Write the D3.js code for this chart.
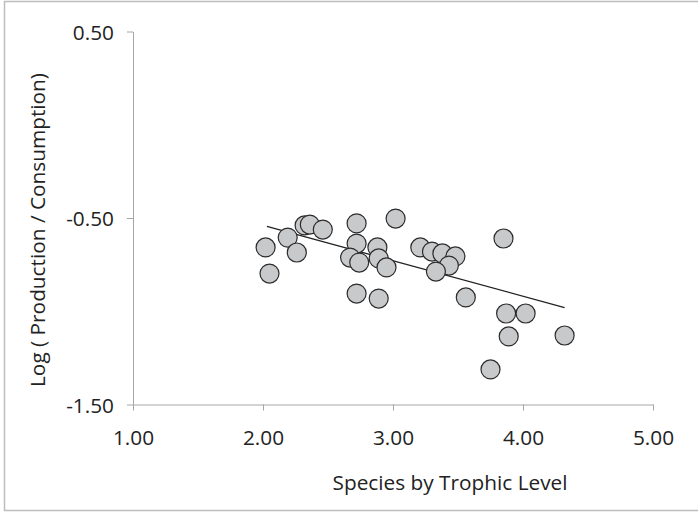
<!DOCTYPE html>
<html>
<head>
<meta charset="utf-8">
<script src="https://cdn.jsdelivr.net/npm/d3@7"></script>
<style>
  html, body { margin: 0; padding: 0; background: #fff; }
  svg { display: block; }
  text { font-family: "Open Sans", "Liberation Sans", sans-serif; fill: #222; }
</style>
</head>
<body>
<svg id="chart" width="698" height="513"></svg>
<script>
// Trophic level of each species and its log production / consumption ratio
const trophicLevel = [2.02, 2.05, 2.19, 2.26, 2.32, 2.36, 2.46, 2.72, 2.72, 2.67,
                      2.74, 3.02, 2.88, 2.89, 2.95, 2.72, 2.89, 3.21, 3.30, 3.38,
                      3.48, 3.43, 3.33, 3.85, 3.56, 3.87, 4.02, 3.89, 4.32, 3.75];
const logPC = [-0.658, -0.798, -0.605, -0.685, -0.540, -0.535, -0.562, -0.529, -0.637, -0.712,
               -0.739, -0.503, -0.658, -0.717, -0.765, -0.905, -0.932, -0.658, -0.680, -0.690,
               -0.706, -0.755, -0.787, -0.610, -0.926, -1.012, -1.012, -1.135, -1.130, -1.312];

// Linear trend line end points
const trendX = [2.03, 4.32];
const trendY = [-0.545, -0.980];

// Axis ticks
const xTicks = [1, 2, 3, 4, 5];
const yTicks = [0.5, -0.5, -1.5];

const fmt = d => d.toFixed(2);   // plain hyphen for negatives
const FS = 20.8;

const svg = d3.select("#chart");

// Outer frame
svg.append("rect")
  .attr("x", 4.5).attr("y", 1.5)
  .attr("width", 720).attr("height", 509)
  .attr("fill", "none").attr("stroke", "#bdbdbd").attr("stroke-width", 1.5);

const x = d3.scaleLinear().domain([1, 5]).range([133, 653]);
const y = d3.scaleLinear().domain([-1.5, 0.5]).range([404.5, 31.5]);

// X axis
const xAxis = svg.append("g")
  .attr("transform", `translate(0,${y(-1.5)})`)
  .call(d3.axisBottom(x).tickValues(xTicks).tickFormat(fmt).tickSize(6).tickSizeOuter(0));
xAxis.select(".domain").attr("stroke", "#a6a6a6");
xAxis.selectAll(".tick line").attr("stroke", "#a6a6a6");
xAxis.selectAll(".tick text")
  .attr("y", 40.5).attr("dy", 0)
  .attr("font-size", FS).attr("fill", "#222")
  .style("font-family", "'Open Sans', sans-serif");

// Y axis
const yAxis = svg.append("g")
  .attr("transform", `translate(${x(1)},0)`)
  .call(d3.axisLeft(y).tickValues(yTicks).tickFormat(fmt).tickSize(6).tickSizeOuter(0).tickPadding(13));
yAxis.select(".domain").attr("stroke", "#a6a6a6");
yAxis.selectAll(".tick line").attr("stroke", "#a6a6a6");
yAxis.selectAll(".tick text")
  .attr("dy", "0.36em")
  .attr("font-size", FS).attr("fill", "#222")
  .style("font-family", "'Open Sans', sans-serif");

// Trend line
svg.append("line")
  .attr("x1", x(trendX[0])).attr("y1", y(trendY[0]))
  .attr("x2", x(trendX[1])).attr("y2", y(trendY[1]))
  .attr("stroke", "#222").attr("stroke-width", 1.3);

// Data points
const pts = trophicLevel.map((t, i) => ({ t, v: logPC[i] }));
svg.append("g").selectAll("circle")
  .data(pts)
  .join("circle")
  .attr("cx", d => x(d.t))
  .attr("cy", d => y(d.v))
  .attr("r", 9.5)
  .attr("fill", "#c8c9cb")
  .attr("stroke", "#2b2b2b")
  .attr("stroke-width", 1.2);

// Axis titles
svg.append("text")
  .attr("x", 450).attr("y", 490)
  .attr("text-anchor", "middle")
  .attr("font-size", FS)
  .text("Species by Trophic Level");

svg.append("text")
  .attr("transform", "translate(45,230) rotate(-90)")
  .attr("text-anchor", "middle")
  .attr("font-size", FS)
  .text("Log ( Production / Consumption)");
</script>
</body>
</html>
